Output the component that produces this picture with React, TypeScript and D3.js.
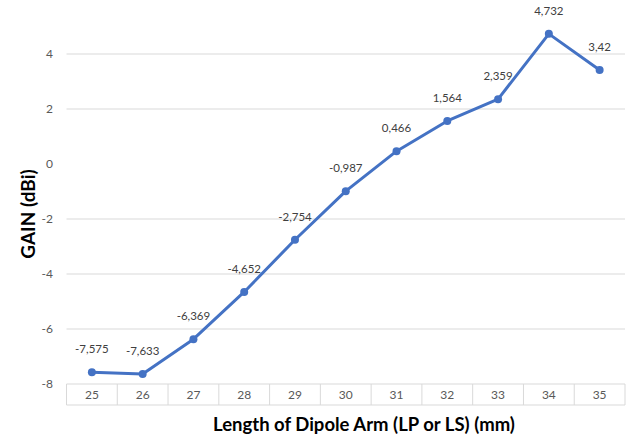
import React from "react";
import * as d3 from "d3";

const categories = ["25", "26", "27", "28", "29", "30", "31", "32", "33", "34", "35"];
const gainValues = [-7.575, -7.633, -6.369, -4.652, -2.754, -0.987, 0.466, 1.564, 2.359, 4.732, 3.42];
const gainLabels = ["-7,575", "-7,633", "-6,369", "-4,652", "-2,754", "-0,987", "0,466", "1,564", "2,359", "4,732", "3,42"];
const yTicks = [-8, -6, -4, -2, 0, 2, 4];

const W = 631;
const H = 439;
const left = 66.5;
const right = 625;
const axisTop = 384;
const boxBottom = 405;

export default function App() {
  const x = d3.scaleBand<string>().domain(categories).range([left, right]).padding(0);
  const y = d3.scaleLinear().domain([-8, 4]).range([axisTop, 54]);
  const cx = (c: string) => (x(c) as number) + x.bandwidth() / 2;

  const line = d3
    .line<number>()
    .x((_, i) => cx(categories[i]))
    .y((d) => y(d));

  const font = "Lato, 'Open Sans', 'Liberation Sans', sans-serif";

  return (
    <svg
      width={W}
      height={H}
      style={{ position: "absolute", left: 0, top: 0, background: "#fff" }}
      fontFamily={font}
    >
      <rect width={W} height={H} fill="#fff" />
      {/* horizontal gridlines */}
      {yTicks
        .filter((t) => t !== -8 && t !== 0)
        .map((t) => (
          <line key={t} x1={left} x2={right} y1={y(t)} y2={y(t)} stroke="#d9d9d9" strokeWidth={1} />
        ))}
      {/* y tick labels */}
      {yTicks.map((t) => (
        <text key={t} x={53} y={y(t)} dy="0.35em" textAnchor="end" fontSize={12} fill="#595959">
          {t}
        </text>
      ))}
      {/* category table under the plot */}
      <line x1={left} x2={right} y1={axisTop} y2={axisTop} stroke="#d9d9d9" />
      <line x1={left} x2={right} y1={boxBottom} y2={boxBottom} stroke="#d9d9d9" />
      {[...categories.map((c) => x(c) as number), right].map((bx, i) => (
        <line key={i} x1={bx} x2={bx} y1={axisTop} y2={boxBottom} stroke="#d9d9d9" />
      ))}
      {categories.map((c) => (
        <text key={c} x={cx(c)} y={395} dy="0.35em" textAnchor="middle" fontSize={12} fill="#595959">
          {c}
        </text>
      ))}
      {/* series */}
      <path d={line(gainValues) || ""} fill="none" stroke="#4472C4" strokeWidth={3} strokeLinejoin="round" />
      {gainValues.map((v, i) => (
        <circle key={i} cx={cx(categories[i])} cy={y(v)} r={4} fill="#4472C4" />
      ))}
      {gainValues.map((v, i) => (
        <text
          key={i}
          x={cx(categories[i])}
          y={y(v) - 19}
          textAnchor="middle"
          fontSize={11.5}
          fill="#404040"
        >
          {gainLabels[i]}
        </text>
      ))}
      {/* axis titles */}
      <text
        transform="translate(35,214) rotate(-90)"
        textAnchor="middle"
        fontSize={19}
        fontWeight="bold"
        fill="#000"
      >
        GAIN (dBi)
      </text>
      <text x={364} y={431} textAnchor="middle" fontSize={18.5} fontWeight="bold" fill="#000">
        Length of Dipole Arm (LP or LS) (mm)
      </text>
    </svg>
  );
}
